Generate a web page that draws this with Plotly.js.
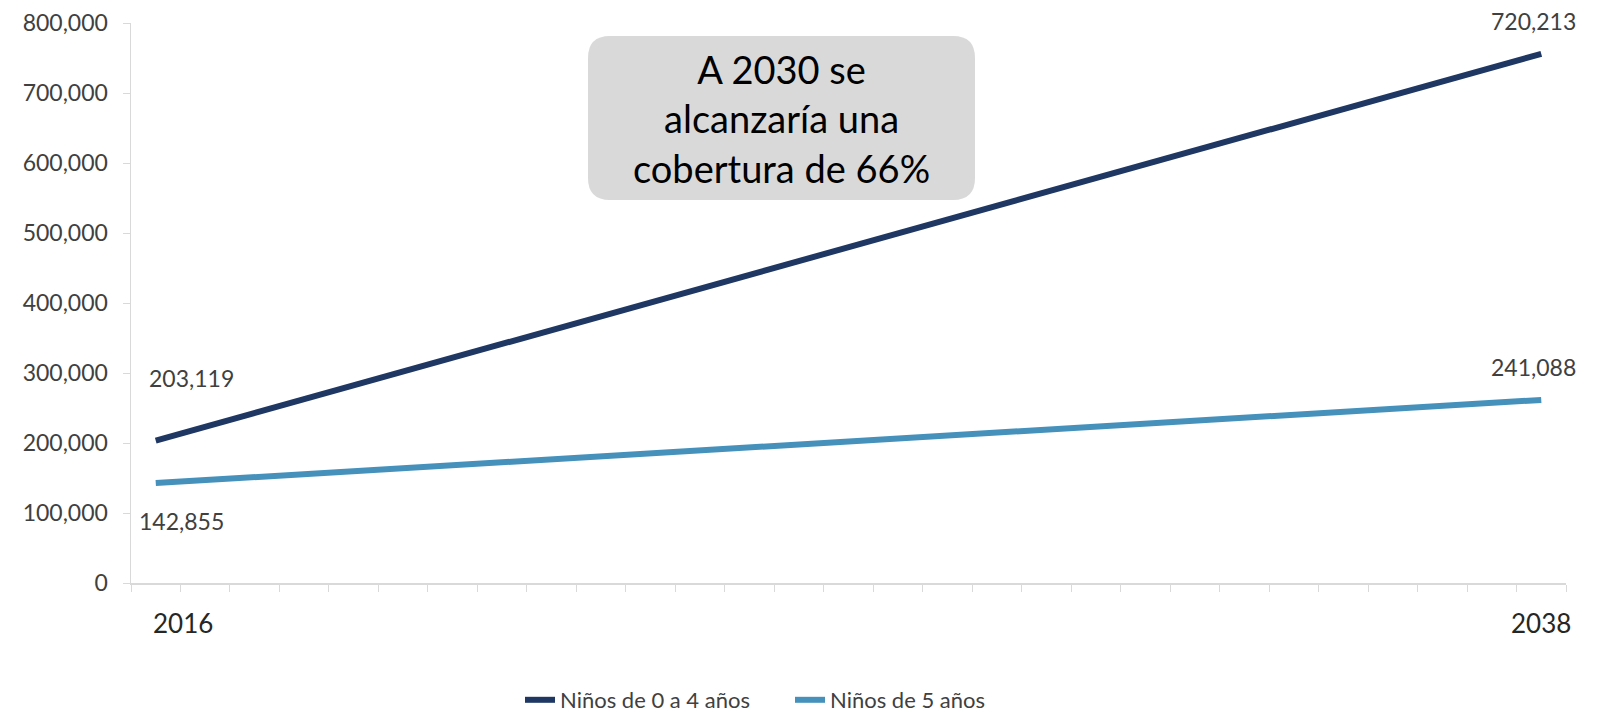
<!DOCTYPE html>
<html>
<head>
<meta charset="utf-8">
<script src="https://cdn.plot.ly/plotly-3.0.1.min.js"></script>
<style>html,body{margin:0;padding:0;background:#fff;}#chart{width:1599px;height:712px;}</style>
</head>
<body>
<div id="chart"></div>
<script>
// ---- data ----
const nCategories = 29;              // category slots on the x axis (2016 ... 2038)
const yearLabels = ['2016', '2038'];
const xIndex = [0, 28];
const seriesNames = ['Niños de 0 a 4 años', 'Niños de 5 años'];
const ninos0a4 = [203400, 756000];
const ninos5 = [142700, 261500];
const labels0a4 = ['203,119', '720,213'];
const labels5 = ['142,855', '241,088'];
const yTicks = [0, 100000, 200000, 300000, 400000, 500000, 600000, 700000, 800000];
const noteText = 'A 2030 se<br>alcanzaría una<br>cobertura de 66%';

// ---- style ----
const FONT = 'Lato, "Open Sans", sans-serif';
const TXT = '#404040';
const DARK = '#1f3763';
const LIGHT = '#4591bb';
const W = 1599, H = 712;
const M = {l: 131, r: 33, t: 23, b: 129};
const PW = W - M.l - M.r, PH = H - M.t - M.b;
const px = X => (X - M.l) / PW;
const py = Y => (H - M.b - Y) / PH;

function roundRect(X0, Y0, X1, Y1, r) {
  const a = (X, Y) => px(X).toFixed(5) + ',' + py(Y).toFixed(5);
  return 'M' + a(X0 + r, Y0) + ' L' + a(X1 - r, Y0) + ' Q' + a(X1, Y0) + ' ' + a(X1, Y0 + r) +
    ' L' + a(X1, Y1 - r) + ' Q' + a(X1, Y1) + ' ' + a(X1 - r, Y1) +
    ' L' + a(X0 + r, Y1) + ' Q' + a(X0, Y1) + ' ' + a(X0, Y1 - r) +
    ' L' + a(X0, Y0 + r) + ' Q' + a(X0, Y0) + ' ' + a(X0 + r, Y0) + ' Z';
}

const traces = [
  {x: xIndex, y: ninos0a4, name: seriesNames[0], type: 'scatter', mode: 'lines',
   line: {color: DARK, width: 6}},
  {x: xIndex, y: ninos5, name: seriesNames[1], type: 'scatter', mode: 'lines',
   line: {color: LIGHT, width: 6}}
];

const boundaries = [];
for (let i = 0; i <= nCategories; i++) boundaries.push(i - 0.5);

const annotations = [];
const last = xIndex.length - 1;
// data labels
annotations.push({x: xIndex[0], y: ninos0a4[0], text: labels0a4[0], xshift: 36, yshift: 63});
annotations.push({x: xIndex[last], y: ninos0a4[last], text: labels0a4[last], xshift: -8, yshift: 33});
annotations.push({x: xIndex[0], y: ninos5[0], text: labels5[0], xshift: 26, yshift: -38});
annotations.push({x: xIndex[last], y: ninos5[last], text: labels5[last], xshift: -8, yshift: 33});
annotations.forEach(a => Object.assign(a, {xref: 'x', yref: 'y', showarrow: false,
  font: {family: FONT, size: 23, color: TXT}}));
// year labels
yearLabels.forEach((t, i) => annotations.push({x: xIndex[i], y: 0, xref: 'x', yref: 'y',
  text: t, showarrow: false, yshift: -40, xshift: i === 0 ? 27 : 0,
  font: {family: FONT, size: 26, color: '#262626'}}));
// note box text
annotations.push({x: px(781.5), y: py(119), xref: 'paper', yref: 'paper', text: noteText,
  xanchor: 'center', yanchor: 'middle',
  showarrow: false, align: 'center', font: {family: FONT, size: 38, color: '#000'}});

const layout = {
  width: W, height: H,
  margin: M,
  paper_bgcolor: '#fff', plot_bgcolor: '#fff',
  showlegend: true,
  legend: {orientation: 'h', xref: 'container', yref: 'container',
    x: 520 / W, xanchor: 'left', y: (H - 700) / H, yanchor: 'middle', entrywidth: 225,
    font: {family: FONT, size: 22, color: TXT}, traceorder: 'normal'},
  xaxis: {range: [-0.5, nCategories - 0.5], tickmode: 'array', tickvals: boundaries,
    ticktext: boundaries.map(() => ''), ticks: 'outside', ticklen: 7, tickcolor: '#d9d9d9',
    showgrid: false, zeroline: false, showline: true, linecolor: '#d9d9d9', linewidth: 1.5,
    fixedrange: true},
  yaxis: {range: [0, 800000], tickmode: 'array', tickvals: yTicks,
    ticktext: yTicks.map(v => v.toLocaleString('en-US')), ticks: 'outside', ticklen: 7,
    tickcolor: '#d9d9d9', showgrid: false, zeroline: false, showline: true,
    linecolor: '#d9d9d9', linewidth: 1.5, ticklabelstandoff: 10,
    tickfont: {family: FONT, size: 23, color: TXT}},
  shapes: [{type: 'path', xref: 'paper', yref: 'paper', path: roundRect(588, 36, 975, 200, 22),
    fillcolor: '#d9d9d9', line: {width: 0}, layer: 'above'}],
  annotations: annotations
};

Plotly.newPlot('chart', traces, layout, {displayModeBar: false, staticPlot: true});
</script>
</body>
</html>
